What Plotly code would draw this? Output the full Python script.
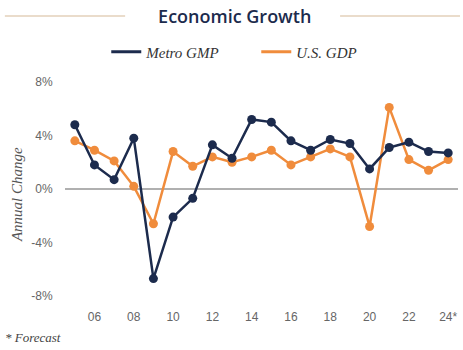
import plotly.graph_objects as go

years = list(range(2005, 2025))
metro_gmp = [4.8, 1.8, 0.7, 3.8, -6.7, -2.1, -0.7, 3.3, 2.3, 5.2, 5.0, 3.6, 2.9, 3.7, 3.4, 1.5, 3.1, 3.5, 2.8, 2.7]
us_gdp = [3.6, 2.9, 2.1, 0.2, -2.6, 2.8, 1.7, 2.4, 2.0, 2.4, 2.9, 1.8, 2.4, 3.0, 2.4, -2.8, 6.1, 2.2, 1.4, 2.2]
x_tick_vals = [2006, 2008, 2010, 2012, 2014, 2016, 2018, 2020, 2022, 2024]
x_tick_text = ["06", "08", "10", "12", "14", "16", "18", "20", "22", "24*"]
y_tick_vals = [-8, -4, 0, 4, 8]
y_tick_text = ["-8%", "-4%", "0%", "4%", "8%"]

NAVY = "#1c2b4d"
ORANGE = "#f08c3c"
serif = "Liberation Serif"

fig = go.Figure()
fig.add_trace(go.Scatter(x=years, y=us_gdp, mode="lines+markers",
                         line=dict(color=ORANGE, width=2.5),
                         marker=dict(color=ORANGE, size=9), showlegend=False))
fig.add_trace(go.Scatter(x=years, y=metro_gmp, mode="lines+markers",
                         line=dict(color=NAVY, width=2.5),
                         marker=dict(color=NAVY, size=9), showlegend=False))
# legend-only traces (line swatch only)
fig.add_trace(go.Scatter(x=[None], y=[None], mode="lines", name="Metro GMP",
                         line=dict(color=NAVY, width=3)))
fig.add_trace(go.Scatter(x=[None], y=[None], mode="lines", name="U.S. GDP",
                         line=dict(color=ORANGE, width=3)))

fig.update_layout(
    width=463, height=350,
    margin=dict(l=65, r=5, t=82, b=54),
    paper_bgcolor="white", plot_bgcolor="white",
    title=dict(text="Economic Growth", x=0.507, xanchor="center", y=0.951, yanchor="middle",
               font=dict(family="Open Sans", size=18, color=NAVY, weight=600)),
    legend=dict(orientation="h", x=0.105, xanchor="left", y=1.14, yanchor="middle",
                font=dict(family=serif, size=15, color="#333", style="italic"),
                itemwidth=30, tracegroupgap=0, entrywidth=105, entrywidthmode="pixels"),
    xaxis=dict(range=[2004.5, 2024.5], tickvals=x_tick_vals, ticktext=x_tick_text,
               showgrid=False, zeroline=False, showline=False,
               ticks="outside", ticklen=10, tickcolor="rgba(0,0,0,0)",
               tickfont=dict(family="Liberation Sans", size=12, color="#666")),
    yaxis=dict(range=[-8, 8], tickvals=y_tick_vals, ticktext=y_tick_text,
               showgrid=False, zeroline=True, zerolinecolor="#b0b0b0", zerolinewidth=1.5,
               showline=False, ticks="outside", ticklen=9, tickcolor="rgba(0,0,0,0)",
               tickfont=dict(family="Liberation Sans", size=12, color="#666")),
    shapes=[
        dict(type="line", xref="paper", yref="paper", x0=-0.153, x1=0.153, y0=1.308, y1=1.308,
             line=dict(color="#eadccb", width=2)),
        dict(type="line", xref="paper", yref="paper", x0=0.70, x1=1.005, y0=1.308, y1=1.308,
             line=dict(color="#eadccb", width=2)),
    ],
    annotations=[
        dict(text="Annual Change", xref="paper", yref="paper", x=-0.122, y=0.472,
             textangle=-90, showarrow=False, xanchor="center", yanchor="middle",
             font=dict(family=serif, size=15, color="#555", style="italic")),
        dict(text="* Forecast", xref="paper", yref="paper", x=-0.158, y=-0.196,
             showarrow=False, xanchor="left", yanchor="middle",
             font=dict(family=serif, size=13, color="#444", style="italic")),
    ],
)

fig.write_html("out.html")
